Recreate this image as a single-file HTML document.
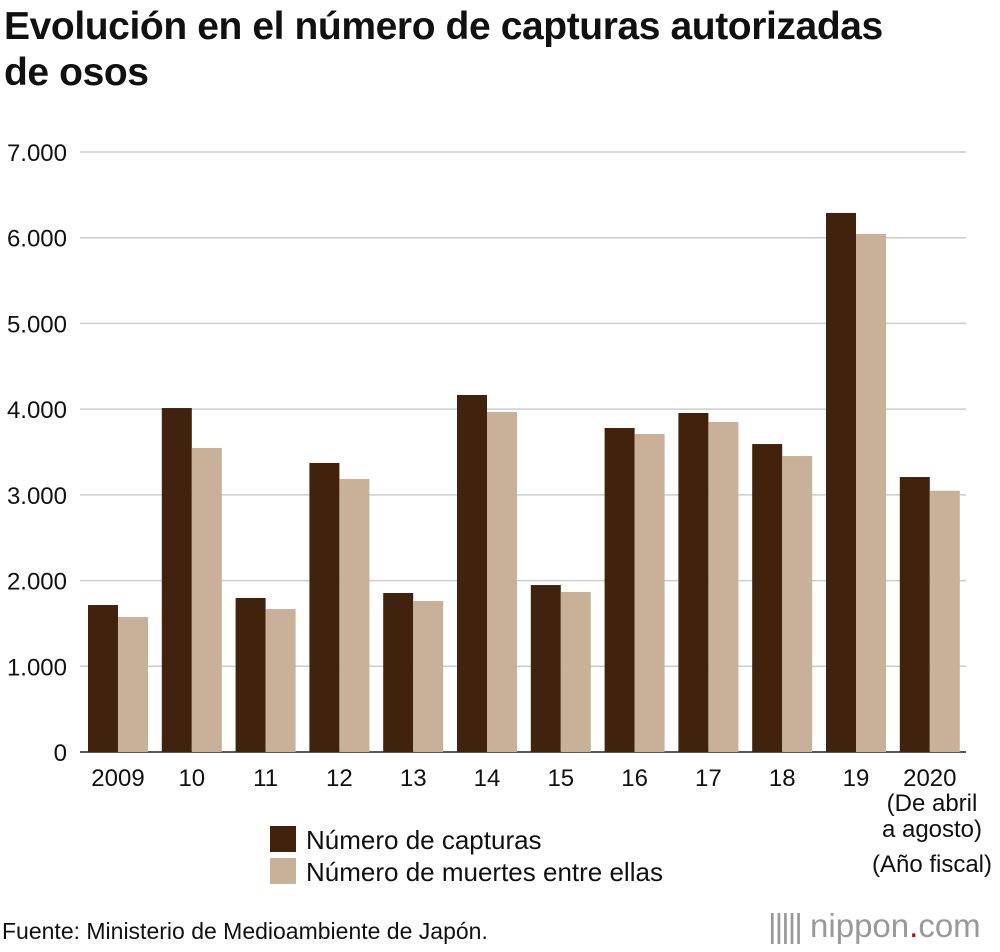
<!DOCTYPE html>
<html><head><meta charset="utf-8"><style>
body{margin:0;background:#fff;font-family:"Liberation Sans",Arial,sans-serif;color:#111}
#wrap{position:relative;width:1000px;height:952px;overflow:hidden}
.t{position:absolute;white-space:nowrap}
</style></head><body>
<div id="wrap">
<div class="t" style="left:4px;top:4px;font-size:39px;font-weight:bold;line-height:46px;letter-spacing:-0.4px">Evolución en el número de capturas autorizadas<br>de osos</div>
<svg id="chart" width="1000" height="952" style="position:absolute;left:0;top:0"></svg>
<div class="t" style="left:2px;top:918px;font-size:23px">Fuente: Ministerio de Medioambiente de Japón.</div>
<div class="t" style="left:768px;top:907px;font-size:33px;color:#999"><span style="letter-spacing:-2px">|||||</span> nippon<span style="color:#c00">.</span>com</div>
</div>
<script>
const categories=["2009","10","11","12","13","14","15","16","17","18","19","2020"];
const captures=[1715,4013,1797,3372,1855,4165,1948,3780,3955,3593,6289,3208];
const deaths=[1575,3547,1668,3185,1762,3967,1867,3710,3850,3453,6044,3048];
const yTicks=[0,1000,2000,3000,4000,5000,6000,7000];
const yTickLabels=["0","1.000","2.000","3.000","4.000","5.000","6.000","7.000"];
const NS="http://www.w3.org/2000/svg";
const svg=document.getElementById('chart');
const y=v=>752-v*600/7000;
const x0=88,step=73.8,bw=30;
function mk(t,a){const e=document.createElementNS(NS,t);for(const k in a)e.setAttribute(k,a[k]);svg.appendChild(e);return e;}
yTicks.forEach((v,i)=>{
 const l=mk('line',{x1:80,x2:966,y1:y(v),y2:y(v),stroke:v===0?'#222':'#ccc','stroke-width':1.5});
 
 
 const t=mk('text',{x:67,y:y(v)+9,'text-anchor':'end','font-size':24,fill:'#111'});
 t.textContent=yTickLabels[i];
 
 
});
categories.forEach((c,i)=>{
 const gx=x0+i*step;
 const a=mk('rect',{x:gx,y:y(captures[i]),width:bw,height:y(0)-y(captures[i]),fill:'#41220d'});
 
 
 const b=mk('rect',{x:gx+bw,y:y(deaths[i]),width:bw,height:y(0)-y(deaths[i]),fill:'#c8b198'});
 
 
 const t=mk('text',{x:gx+bw,y:786,'text-anchor':'middle','font-size':24,fill:'#111'});
 t.textContent=c;
 
 
});
[["(De abril",811],["a agosto)",837],["(Año fiscal)",872]].forEach(([s,yy])=>{
 const t=mk('text',{x:932,y:yy,'text-anchor':'middle','font-size':24,fill:'#111'});
 t.textContent=s;
 
 
});
[["#41220d","Número de capturas",826],["#c8b198","Número de muertes entre ellas",858]].forEach(([col,s,yy])=>{
 const r=mk('rect',{x:270,y:yy,width:26,height:26,fill:col});
 
 
 const t=mk('text',{x:306,y:yy+23,'font-size':26,fill:'#111'});
 t.textContent=s;
 
 
});
</script>
</body></html>
